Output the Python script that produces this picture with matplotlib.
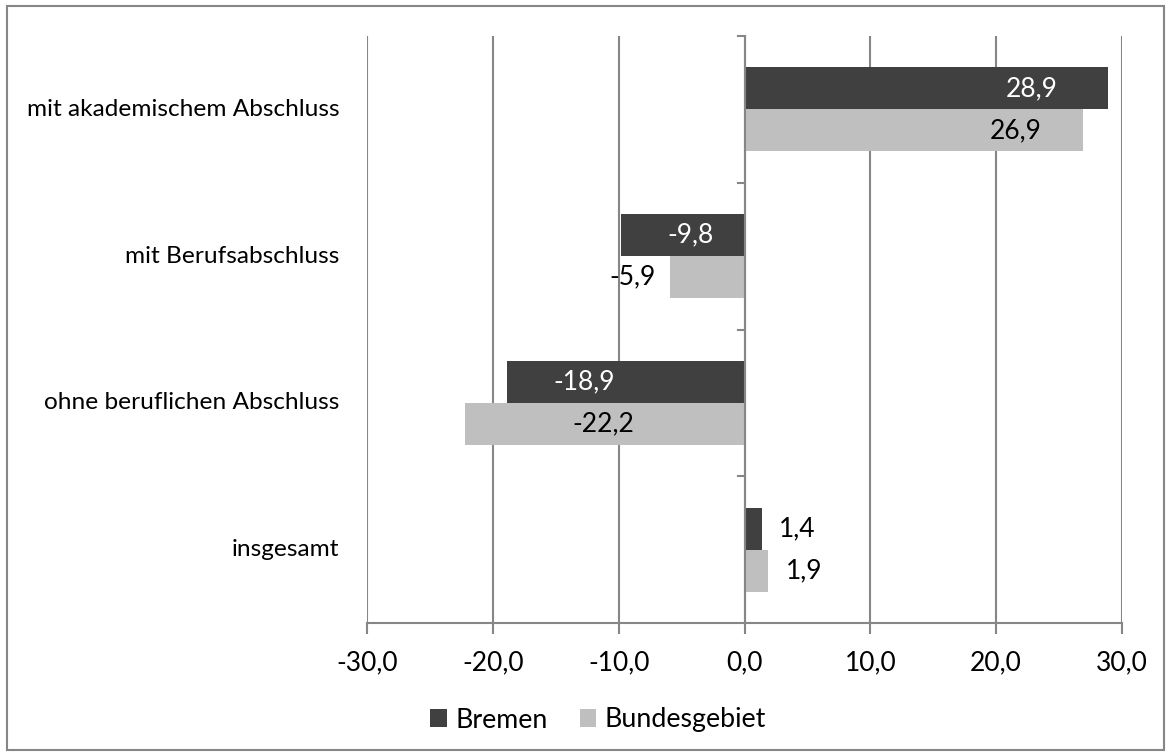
import matplotlib
matplotlib.use("Agg")
import matplotlib.pyplot as plt
from matplotlib.patches import Rectangle
import numpy as np

categories = ["mit akademischem Abschluss", "mit Berufsabschluss",
              "ohne beruflichen Abschluss", "insgesamt"]
bremen = [28.9, -9.8, -18.9, 1.4]
bund = [26.9, -5.9, -22.2, 1.9]
series_names = ["Bremen", "Bundesgebiet"]
xticks = [-30, -20, -10, 0, 10, 20, 30]

plt.rcParams['font.family'] = ['Lato', 'DejaVu Sans']

fig = plt.figure(figsize=(11.71, 7.56), dpi=100)
ax = fig.add_axes([367/1171, 1-623/756, (1122-367)/1171, (623-36)/756])

n = len(categories)
ypos = np.arange(n)[::-1]  # top first
h = 0.287
dark = "#404040"
light = "#bfbfbf"
grid_c = "#868686"
ax.barh(ypos + h/2, bremen, height=h, color=dark, label=series_names[0], zorder=3)
ax.barh(ypos - h/2, bund, height=h, color=light, label=series_names[1], zorder=3)

ax.set_xlim(-30, 30)
ax.set_ylim(-0.5, n - 0.5)
ax.set_xticks(xticks)
ax.set_xticklabels([f"{v:.1f}".replace(".", ",") for v in xticks], fontsize=19)
ax.tick_params(axis='x', length=8, width=1.5, color=grid_c, pad=12)
ax.xaxis.grid(True, color=grid_c, linewidth=1.5, zorder=0)

ax.set_yticks([])
for y, c in zip(ypos, categories):
    ax.text(-32.2, y, c, ha='right', va='center', fontsize=17.6)

for s in ['top', 'right', 'left']:
    ax.spines[s].set_visible(False)
ax.spines['bottom'].set_color(grid_c)
ax.spines['bottom'].set_linewidth(1.5)
ax.axvline(0, color=grid_c, linewidth=1.5, zorder=4)
for yb in np.arange(n + 1) - 0.5:
    if yb < -0.4:
        continue
    ax.plot([-0.5, 0], [yb, yb], color=grid_c, linewidth=1.5, clip_on=False, zorder=4)

def fmt(v):
    return f"{v:.1f}".replace(".", ",")

fs = 19
for y, v in zip(ypos, bremen):
    if abs(v) > 5:
        xoff = -4.0 if v > 0 else 3.7
        ax.text(v + xoff, y + h/2, fmt(v), ha='right' if v > 0 else 'left', va='center',
                color='white', fontsize=fs, zorder=5)
    else:
        ax.text(v + 1.35, y + h/2, fmt(v), ha='left', va='center', color='black', fontsize=fs, zorder=5)
for y, v in zip(ypos, bund):
    if abs(v) > 10:
        xoff = -3.3 if v > 0 else 8.5
        ax.text(v + xoff, y - h/2, fmt(v), ha='right' if v > 0 else 'left', va='center',
                color='black', fontsize=fs, zorder=5)
    elif v < 0:
        ax.text(v - 1.2, y - h/2, fmt(v), ha='right', va='center', color='black', fontsize=fs, zorder=5)
    else:
        ax.text(v + 1.35, y - h/2, fmt(v), ha='left', va='center', color='black', fontsize=fs, zorder=5)

leg = fig.legend(loc='center', bbox_to_anchor=(598/1171, 1-720/756), ncol=2, frameon=False,
                 fontsize=19.3, handlelength=0.63, handleheight=0.63, handletextpad=0.3,
                 columnspacing=1.2)

fig.patches.append(Rectangle((7/1171, 6/756), 1157/1171, 744/756, transform=fig.transFigure,
                             fill=False, edgecolor=grid_c, linewidth=1.5))

fig.savefig("out.png", dpi=100)
